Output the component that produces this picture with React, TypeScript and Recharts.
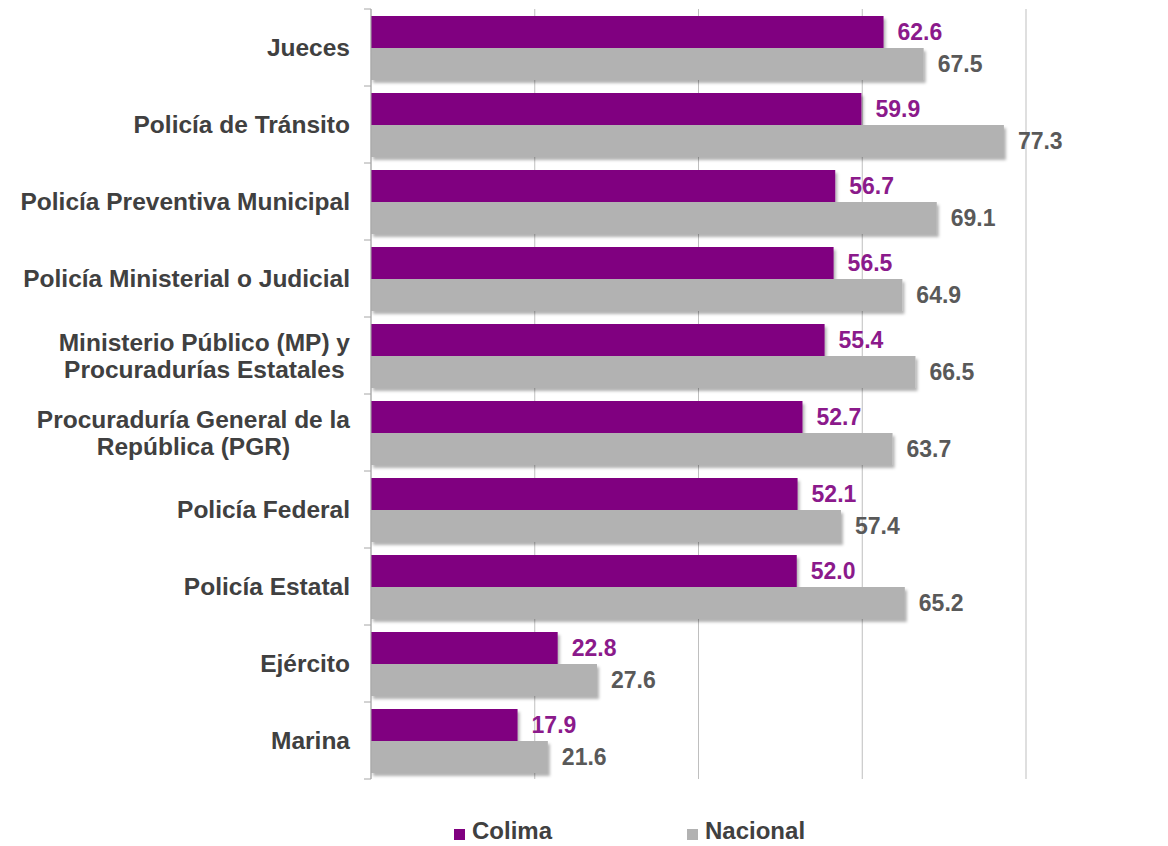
import React from "react";
import { BarChart, Bar, XAxis, YAxis, CartesianGrid, LabelList, Legend } from "recharts";

const categories = [
  "Jueces",
  "Policía de Tránsito",
  "Policía Preventiva Municipal",
  "Policía Ministerial o Judicial",
  "Ministerio Público (MP) y\nProcuradurías Estatales",
  "Procuraduría General de la\nRepública (PGR)",
  "Policía Federal",
  "Policía Estatal",
  "Ejército",
  "Marina",
];
const colimaValues = [62.6, 59.9, 56.7, 56.5, 55.4, 52.7, 52.1, 52.0, 22.8, 17.9];
const nacionalValues = [67.5, 77.3, 69.1, 64.9, 66.5, 63.7, 57.4, 65.2, 27.6, 21.6];
const xTicks = [0, 20, 40, 60, 80];
const seriesNames = ["Colima", "Nacional"];

const data = categories.map((c, i) => ({ name: c, colima: colimaValues[i], nacional: nacionalValues[i] }));

const W = 1168;
const H = 846;
const MARGIN = { top: 9, right: 142, bottom: 67, left: 0 };
const Y_WIDTH = 371;
const PURPLE = "#800080";
const GREY = "#B2B2B2";
const FONT = "'Liberation Sans', Arial, sans-serif";
const CAT_FONT_SIZE = 24.5;
const BAND = (H - MARGIN.top - MARGIN.bottom) / categories.length;

let ctx: CanvasRenderingContext2D | null = null;
function measure(t: string) {
  if (!ctx) {
    const c = document.createElement("canvas");
    ctx = c.getContext("2d");
  }
  if (!ctx) return t.length * 12;
  ctx.font = `bold ${CAT_FONT_SIZE}px ${FONT}`;
  return ctx.measureText(t).width;
}

const CategoryTick = (props: any) => {
  const { x, y, payload, index } = props;
  const lines = String(payload.value).split("\n");
  const axisX = x + 21;
  const maxW = Math.max(...lines.map(measure));
  const lineH = 27;
  const top = y - ((lines.length - 1) * lineH) / 2;
  return (
    <g>
      <line x1={axisX - 7} x2={axisX} y1={y - BAND / 2} y2={y - BAND / 2} stroke="#A6A6A6" strokeWidth={1} />
      {index === categories.length - 1 && (
        <line x1={axisX - 7} x2={axisX} y1={y + BAND / 2} y2={y + BAND / 2} stroke="#A6A6A6" strokeWidth={1} />
      )}
      {lines.map((l, i) => (
        <text
          key={i}
          x={lines.length > 1 ? x - maxW / 2 : x}
          y={top + i * lineH}
          textAnchor={lines.length > 1 ? "middle" : "end"}
          dominantBaseline="central"
          fontFamily={FONT}
          fontWeight="bold"
          fontSize={CAT_FONT_SIZE}
          fill="#404040"
        >
          {l}
        </text>
      ))}
    </g>
  );
};

const ShadowBar = (props: any) => {
  const { x, y, width, height, fill } = props;
  if (!width || width <= 0) return null;
  return <rect x={x} y={y} width={width} height={height} fill={fill} filter="url(#barShadow)" />;
};

const LegendContent = () => (
  <div
    style={{
      display: "flex",
      alignItems: "center",
      paddingLeft: 454,
      fontFamily: FONT,
      fontWeight: "bold",
      fontSize: 24,
      color: "#404040",
    }}
  >
    {seriesNames.map((n, i) => (
      <div key={n} style={{ display: "flex", alignItems: "center", marginRight: i === 0 ? 135 : 0 }}>
        <span
          style={{
            display: "inline-block",
            width: 11,
            height: 11,
            background: i === 0 ? PURPLE : GREY,
            marginRight: 7,
            marginTop: 6,
          }}
        />
        <span>{n}</span>
      </div>
    ))}
  </div>
);

export default function App() {
  return (
    <div style={{ position: "absolute", left: 0, top: 0, width: W, height: H, background: "#fff" }}>
      <BarChart
        width={W}
        height={H}
        data={data}
        layout="vertical"
        margin={MARGIN}
        barCategoryGap={7}
        barGap={0}
      >
        <defs>
          <filter id="barShadow" x="-5%" y="-20%" width="110%" height="160%">
            <feDropShadow dx="2" dy="3" stdDeviation="1.5" floodColor="#000" floodOpacity="0.3" />
          </filter>
        </defs>
        <CartesianGrid horizontal={false} vertical={true} stroke="#BFBFBF" strokeWidth={1} />
        <XAxis type="number" domain={[0, 80]} ticks={xTicks} hide />
        <YAxis
          type="category"
          dataKey="name"
          width={Y_WIDTH}
          tickSize={0}
          tickMargin={21}
          tickLine={false}
          axisLine={{ stroke: "#A6A6A6", strokeWidth: 1 }}
          tick={<CategoryTick />}
          interval={0}
        />
        <Legend
          verticalAlign="middle"
          align="center"
          layout="horizontal"
          wrapperStyle={{ position: "absolute", top: 817, left: 0, width: W }}
          content={<LegendContent />}
        />
        <Bar dataKey="colima" name="Colima" fill={PURPLE} isAnimationActive={false} shape={<ShadowBar />}>
          <LabelList
            dataKey="colima"
            position="right"
            offset={14}
            formatter={(v: any) => Number(v).toFixed(1)}
            style={{ fontFamily: FONT, fontWeight: "bold", fontSize: 23, fill: "#8B1A8B" }}
          />
        </Bar>
        <Bar dataKey="nacional" name="Nacional" fill={GREY} isAnimationActive={false} shape={<ShadowBar />}>
          <LabelList
            dataKey="nacional"
            position="right"
            offset={14}
            formatter={(v: any) => Number(v).toFixed(1)}
            style={{ fontFamily: FONT, fontWeight: "bold", fontSize: 23, fill: "#595959" }}
          />
        </Bar>
      </BarChart>
    </div>
  );
}
